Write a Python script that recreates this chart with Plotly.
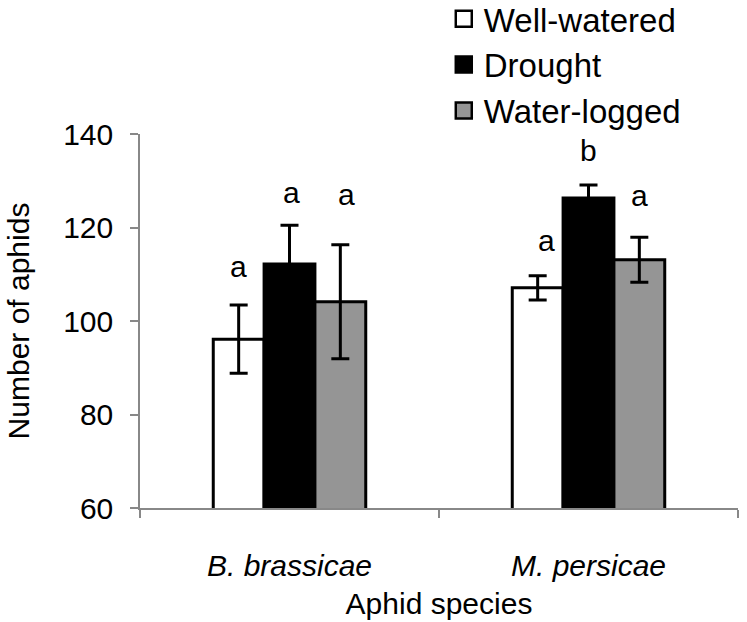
import plotly.graph_objects as go

# ---- data ----
species = ["B. brassicae", "M. persicae"]
treatments = ["Well-watered", "Drought", "Water-logged"]
well_watered = [96.1, 107.1]
drought = [112.2, 126.3]
water_logged = [104.1, 113.1]
well_watered_err = [7.3, 2.6]
drought_err = [8.3, 2.8]
water_logged_err = [12.2, 4.8]
letters = [["a", "a"], ["a", "b"], ["a", "a"]]
letter_y = [[110.9, 116.3], [126.6, 136.3], [126.1, 126.0]]
y_ticks = [60, 80, 100, 120, 140]

values = [well_watered, drought, water_logged]
errors = [well_watered_err, drought_err, water_logged_err]
fills = ["white", "black", "#959595"]
letter_xshift = [[0, 9], [2, 0], [6, 0]]

FONT = "Liberation Sans, Arial, sans-serif"
AX = "#888888"
FS = 30

xpos = list(range(len(species)))
bar_w = 0.17

fig = go.Figure()
for i, name in enumerate(treatments):
    fig.add_trace(go.Bar(
        x=xpos, y=values[i], name=name, showlegend=False,
        width=bar_w, offset=(i - 1.5) * bar_w,
        marker=dict(color=fills[i], line=dict(color="black", width=3)),
        error_y=dict(type="data", array=errors[i], color="black", thickness=3, width=9),
    ))
    # legend entry
    fig.add_trace(go.Scatter(
        x=[None], y=[None], mode="markers", name=name,
        marker=dict(symbol="square", size=16, color=fills[i], line=dict(color="black", width=2.5)),
    ))

for i in range(len(treatments)):
    for j in range(len(species)):
        lab = letters[i][j]
        fig.add_annotation(
            x=xpos[j] + (i - 1) * bar_w, y=letter_y[i][j], text=lab,
            showarrow=False, xshift=letter_xshift[i][j],
            yshift=4 if lab == "a" else 1, yanchor="middle",
            font=dict(family=FONT, size=FS, color="black"),
        )

fig.update_layout(
    width=747, height=622,
    margin=dict(l=140, r=9, t=134, b=114, autoexpand=False),
    paper_bgcolor="white", plot_bgcolor="white",
    font=dict(family=FONT, size=FS, color="black"),
    bargap=0.488,
    legend=dict(x=0.508, y=1.383, xanchor="left", yanchor="top",
                font=dict(size=33), bgcolor="rgba(0,0,0,0)", itemwidth=30),
    xaxis=dict(
        range=[-0.5, 1.5], tickvals=xpos,
        ticktext=["<i>%s</i>" % s for s in species],
        ticks="", ticklabelstandoff=30,
        showline=True, linecolor=AX, linewidth=1.5, showgrid=False, zeroline=False,
        minor=dict(tick0=-0.5, dtick=1, ticks="outside", ticklen=8, tickcolor=AX, tickwidth=1.5),
        title=dict(text="Aphid species", standoff=12, font=dict(size=FS)),
        automargin=False,
    ),
    yaxis=dict(
        range=[60, 140], tickvals=y_ticks,
        ticks="outside", ticklen=8, tickcolor=AX, tickwidth=1.5,
        showline=True, linecolor=AX, linewidth=1.5, showgrid=False, zeroline=False,
        ticklabelstandoff=11,
        title=dict(text="Number of aphids", standoff=25, font=dict(size=FS)),
        automargin=False,
    ),
)

fig.write_html("out.html", post_script="document.body.style.margin='0';",
               config={"displayModeBar": False})
